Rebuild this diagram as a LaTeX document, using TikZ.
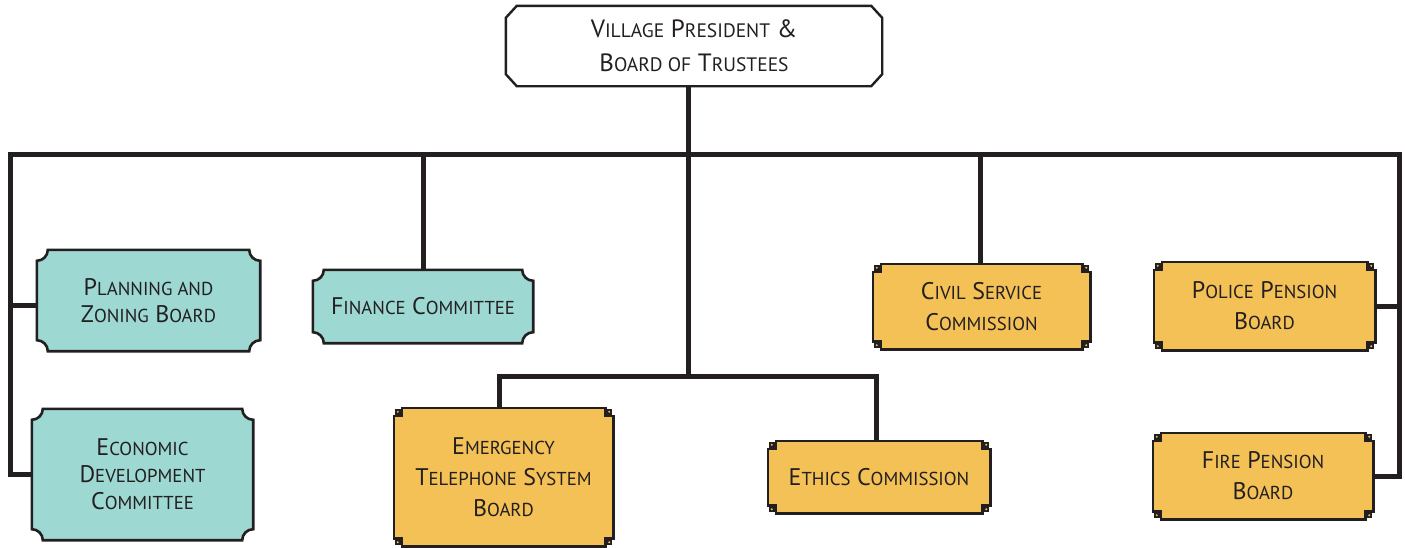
\documentclass[tikz,border=0pt]{standalone}
\usepackage{fontspec}
\setmainfont{PT Sans}
\newfontfamily\lcfont[Scale=0.78]{PT Sans}
\newcommand\lc[1]{{\lcfont #1}}
\usetikzlibrary{backgrounds}

\definecolor{ink}{HTML}{231F20}
\definecolor{tealfill}{HTML}{9DD8D2}
\definecolor{goldfill}{HTML}{F3C156}

\tikzset{
  label/.style={draw=none, inner sep=0pt, align=center, text=ink},
  toptext/.style={label, font=\fontsize{25}{34}\selectfont},
  tealtext/.style={label, font=\fontsize{24}{27}\selectfont},
  goldtext/.style={label, font=\fontsize{24}{31}\selectfont},
  wire/.style={draw=ink, line width=5pt, line join=miter},
  tealframe/.style={draw=ink, fill=tealfill, line width=2.6pt},
  goldframe/.style={draw=ink, fill=goldfill, line width=2.6pt},
  topframe/.style={draw=ink, fill=white, line width=2.4pt},
}

% frame with concave rounded corners
\newcommand\tealbox[1]{%
  \path[tealframe]
    ([xshift=11pt]#1.north west) -- ([xshift=-11pt]#1.north east)
    arc[start angle=180, end angle=270, radius=11pt]
    -- ([yshift=11pt]#1.south east)
    arc[start angle=90, end angle=180, radius=11pt]
    -- ([xshift=11pt]#1.south west)
    arc[start angle=0, end angle=90, radius=11pt]
    -- ([yshift=-11pt]#1.north west)
    arc[start angle=270, end angle=360, radius=11pt] -- cycle;}

% frame with stepped corners and a small square in each notch
\newcommand\goldbox[1]{%
  \path[goldframe]
    ([xshift=8pt]#1.north west) -- ([xshift=-8pt]#1.north east)
    -- ++(0,-8pt) -- ++(8pt,0)
    -- ([yshift=8pt]#1.south east) -- ++(-8pt,0) -- ++(0,-8pt)
    -- ([xshift=8pt]#1.south west) -- ++(0,8pt) -- ++(-8pt,0)
    -- ([yshift=-8pt]#1.north west) -- ++(8pt,0) -- cycle;
  \foreach \cx/\cy in {4/-4, -4/-4, 4/4, -4/4}{%
    \fill[ink] ([xshift=\cx pt-2.9pt, yshift=\cy pt-2.9pt]#1.\ifdim\cy pt<0pt north\else south\fi\space\ifdim\cx pt>0pt west\else east\fi)
      rectangle ++(5.8pt,5.8pt);
    \fill[goldfill] ([xshift=\cx pt, yshift=\cy pt]#1.\ifdim\cy pt<0pt north\else south\fi\space\ifdim\cx pt>0pt west\else east\fi)
      circle[radius=1.1pt];
  }}

% frame with chamfered corners
\newcommand\topbox[1]{%
  \path[topframe]
    ([xshift=11pt]#1.north west) -- ([xshift=-11pt]#1.north east)
    -- ([yshift=-12pt]#1.north east) -- ([yshift=12pt]#1.south east)
    -- ([xshift=-11pt]#1.south east) -- ([xshift=11pt]#1.south west)
    -- ([yshift=12pt]#1.south west) -- ([yshift=-12pt]#1.north west) -- cycle;}

\begin{document}
\begin{tikzpicture}[x=1pt, y=1pt]
\useasboundingbox (0,0) rectangle (1405,-547);

% board
\node[toptext, minimum width=376pt, minimum height=80pt] (board) at (694,-46)
  {V\lc{ILLAGE} P\lc{RESIDENT} \&\\B\lc{OARD OF} T\lc{RUSTEES}};

% committees and boards
\node[tealtext, minimum width=223pt, minimum height=101pt] (plan) at (148.5,-300.5)
  {P\lc{LANNING AND}\\Z\lc{ONING} B\lc{OARD}};
\node[tealtext, minimum width=221pt, minimum height=131pt] (econ) at (142.5,-474.5)
  {E\lc{CONOMIC}\\D\lc{EVELOPMENT}\\C\lc{OMMITTEE}};
\node[tealtext, minimum width=220pt, minimum height=73pt] (fin) at (423,-306.5)
  {F\lc{INANCE} C\lc{OMMITTEE}};
\node[goldtext, minimum width=219pt, minimum height=138pt] (emerg) at (503.5,-477)
  {E\lc{MERGENCY}\\T\lc{ELEPHONE} S\lc{YSTEM}\\B\lc{OARD}};
\node[goldtext, minimum width=222pt, minimum height=72pt] (ethics) at (879,-477)
  {E\lc{THICS} C\lc{OMMISSION}};
\node[goldtext, minimum width=217pt, minimum height=85pt] (civil) at (981.5,-306.5)
  {C\lc{IVIL} S\lc{ERVICE}\\C\lc{OMMISSION}};
\node[goldtext, minimum width=221pt, minimum height=88pt] (police) at (1264.5,-306)
  {P\lc{OLICE} P\lc{ENSION}\\B\lc{OARD}};
\node[goldtext, minimum width=220pt, minimum height=86pt] (fire) at (1263,-476)
  {F\lc{IRE} P\lc{ENSION}\\B\lc{OARD}};

\begin{scope}[on background layer]
  % connectors
  \coordinate (lcorner) at (10,-154);
  \coordinate (rcorner) at (1399,-154);
  \coordinate (low) at (688,-376);
  \draw[wire] (econ.west) -| (lcorner) -- (rcorner) |- (fire.east);
  \draw[wire] ([xshift=-6pt]board.south) -- (low);
  \draw[wire] ([yshift=-5pt]plan.west) -- ([yshift=-5pt]plan.west -| lcorner);
  \draw[wire] (police.east) -- (police.east -| rcorner);
  \draw[wire] (fin.north) -- (fin.north |- lcorner);
  \draw[wire] ([xshift=-1.5pt]civil.north) -- ([xshift=-1.5pt]civil.north |- lcorner);
  \draw[wire] ([xshift=-4.5pt]emerg.north) |- (low) -| ([xshift=-3pt]ethics.north);
  % frames
  \topbox{board}
  \tealbox{plan}
  \tealbox{econ}
  \tealbox{fin}
  \goldbox{emerg}
  \goldbox{ethics}
  \goldbox{civil}
  \goldbox{police}
  \goldbox{fire}
\end{scope}
\end{tikzpicture}
\end{document}
